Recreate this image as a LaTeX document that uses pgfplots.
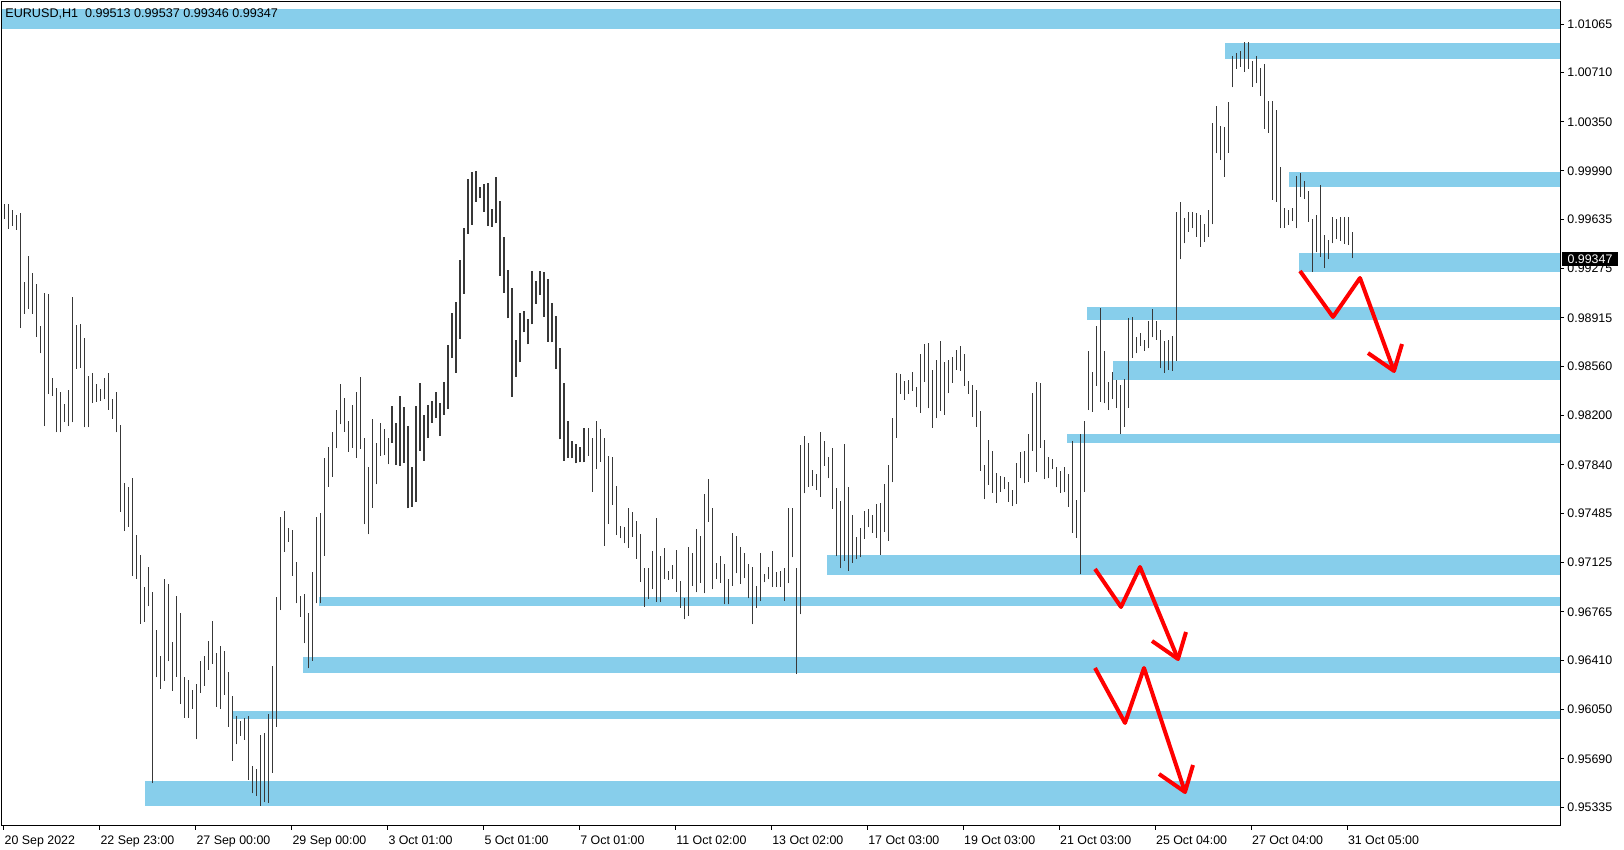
\documentclass[border=0pt]{standalone}
\usepackage{fontspec}
\setmainfont{Liberation Sans}
\usepackage{pgfplots}
\pgfplotsset{compat=1.18}
\usepackage{pgfplotstable}
\definecolor{skyb}{RGB}{135,206,235}

\pgfplotstableread{
x H L
4.3 0.99751 0.99637
8.3 0.99746 0.99566
12.3 0.99703 0.99589
16.3 0.99666 0.99561
20.3 0.99680 0.98841
24.3 0.99177 0.98946
28.3 0.99367 0.98983
32.3 0.99245 0.98946
36.3 0.99160 0.98775
40.3 0.98855 0.98656
44.3 0.99097 0.98124
48.3 0.99091 0.98357
52.3 0.98477 0.98343
56.3 0.98400 0.98078
60.3 0.98371 0.98078
64.3 0.98286 0.98152
68.3 0.98386 0.98124
72.3 0.99066 0.98150
76.3 0.98861 0.98542
80.3 0.98869 0.98548
84.3 0.98770 0.98115
88.3 0.98491 0.98115
92.3 0.98514 0.98292
96.3 0.98428 0.98300
100.3 0.98394 0.98309
104.3 0.98477 0.98320
108.3 0.98514 0.98243
112.3 0.98320 0.98178
116.3 0.98371 0.98078
120.3 0.98130 0.97498
124.3 0.97709 0.97356
128.3 0.97680 0.97387
132.3 0.97745 0.97026
136.3 0.97324 0.97006
140.3 0.97182 0.96676
144.3 0.96946 0.96693
148.3 0.97091 0.96804
152.3 0.96909 0.95512
156.3 0.96633 0.96286
160.3 0.96442 0.96201
164.3 0.97006 0.96258
168.3 0.96969 0.96403
172.3 0.96542 0.96186
176.3 0.96878 0.96289
180.3 0.96758 0.96090
184.3 0.96286 0.95990
188.3 0.96263 0.95990
192.3 0.96195 0.96053
196.3 0.96237 0.95832
200.3 0.96405 0.96174
204.3 0.96442 0.96225
208.3 0.96552 0.96340
212.3 0.96698 0.96384
216.3 0.96462 0.96071
220.3 0.96515 0.96054
224.3 0.96481 0.96157
228.3 0.96322 0.95925
232.3 0.96149 0.95676
236.3 0.96003 0.95796
240.3 0.95969 0.95857
244.3 0.95986 0.95828
248.3 0.96003 0.95535
252.3 0.95637 0.95437
256.3 0.95615 0.95420
260.3 0.95864 0.95347
264.3 0.95881 0.95372
268.3 0.96018 0.95369
272.3 0.96371 0.95589
276.3 0.96871 0.95925
280.3 0.97461 0.96778
284.3 0.97503 0.97205
288.3 0.97381 0.97278
292.3 0.97364 0.97030
296.3 0.97132 0.96827
300.3 0.96881 0.96730
304.3 0.96896 0.96535
308.3 0.96759 0.96352
312.3 0.97059 0.96408
316.3 0.97461 0.96827
320.3 0.97490 0.96827
324.3 0.97893 0.97176
328.3 0.97973 0.97681
332.3 0.98083 0.97754
336.3 0.98241 0.97961
340.3 0.98432 0.98137
344.3 0.98327 0.98083
348.3 0.98161 0.97937
352.3 0.98278 0.97966
356.3 0.98371 0.97893
360.3 0.98480 0.97956
364.3 0.98039 0.97405
368.3 0.97822 0.97332
372.3 0.98173 0.97527
376.3 0.98003 0.97698
380.3 0.98149 0.97905
384.3 0.98100 0.97912
388.3 0.98039 0.97844
392 0.98271 0.98003
396 0.98149 0.97839
400 0.98344 0.97834
404 0.98266 0.97856
408 0.98127 0.97522
412 0.97827 0.97534
416 0.98271 0.97571
420 0.98441 0.97944
424 0.98205 0.97871
428 0.98278 0.98039
432 0.98310 0.98149
436 0.98370 0.98185
440 0.98295 0.98051
444 0.98449 0.98205
448 0.98717 0.98249
452 0.98954 0.98624
456 0.99029 0.98514
460 0.99339 0.98761
464 0.99570 0.99090
468 0.99931 0.99529
472 0.99980 0.99595
476 0.99990 0.99765
480 0.99875 0.99795
484 0.99895 0.99692
488 0.99904 0.99587
492 0.99712 0.99583
496 0.99948 0.99607
500 0.99770 0.99222
504 0.99504 0.99100
508 0.99265 0.98912
512 0.99136 0.98339
516 0.98754 0.98485
520 0.98953 0.98590
524 0.98966 0.98810
528 0.98905 0.98722
532 0.99258 0.98868
536 0.99188 0.99017
540 0.99258 0.99083
544 0.99253 0.98924
548 0.99199 0.98741
552 0.99022 0.98736
556 0.98929 0.98541
560 0.98697 0.98027
564 0.98441 0.97871
568 0.98163 0.97893
572 0.98017 0.97888
576 0.97993 0.97851
580 0.97973 0.97859
584.2 0.98112 0.97859
588.3 0.98112 0.97905
592.3 0.98039 0.97644
596.3 0.98161 0.97807
600.3 0.98102 0.97864
604.3 0.98034 0.97249
608.3 0.97905 0.97407
612.3 0.97895 0.97547
616.3 0.97686 0.97327
620.3 0.97395 0.97303
624.3 0.97388 0.97266
628.3 0.97527 0.97234
632.3 0.97498 0.97315
636.3 0.97432 0.97152
640.3 0.97332 0.96986
644.3 0.97088 0.96803
648.3 0.97088 0.96859
652.3 0.97210 0.96929
656.3 0.97454 0.96839
660.3 0.97176 0.96839
664.3 0.97234 0.97003
668.3 0.97066 0.96998
672.3 0.97108 0.97003
676.3 0.97218 0.96913
680.3 0.96993 0.96796
684.3 0.96864 0.96710
688.3 0.97242 0.96737
692.3 0.97198 0.96957
696.3 0.97371 0.96908
700.3 0.97322 0.96978
704.3 0.97627 0.96900
708.3 0.97737 0.97425
712.3 0.97527 0.96930
716.3 0.97120 0.97003
720.3 0.97173 0.96978
724.3 0.97113 0.96820
728.3 0.97003 0.96820
732.3 0.97339 0.96954
736.3 0.97322 0.97047
740.3 0.97242 0.96969
744.3 0.97198 0.97010
748.3 0.97113 0.96864
752.3 0.97095 0.96674
756.3 0.96954 0.96791
760.3 0.97198 0.96844
764.3 0.97039 0.96981
768.3 0.97095 0.97003
772.3 0.97213 0.96949
776.3 0.97059 0.96949
780.3 0.97066 0.96949
784.3 0.97083 0.96847
788.3 0.97522 0.96973
792.3 0.97522 0.97164
796.3 0.97083 0.96310
800.3 0.97985 0.96747
804.3 0.98051 0.97632
808.3 0.97998 0.97681
812.3 0.97803 0.97688
816.3 0.97773 0.97656
820.3 0.98078 0.97608
824.3 0.98017 0.97834
828.3 0.97895 0.97742
832.3 0.97966 0.97517
836.3 0.97668 0.97173
840.3 0.97576 0.97083
844.3 0.97993 0.97137
848.3 0.97681 0.97066
852.3 0.97473 0.97125
856.3 0.97310 0.97154
860.3 0.97376 0.97164
864.3 0.97503 0.97298
868.3 0.97517 0.97383
872.3 0.97473 0.97344
876.3 0.97554 0.97308
880.3 0.97559 0.97181
884.3 0.97700 0.97352
888.3 0.97839 0.97283
892.3 0.98185 0.97712
896.3 0.98510 0.98039
900.3 0.98502 0.98359
904.3 0.98454 0.98315
908.3 0.98461 0.98359
912.3 0.98517 0.98383
916.3 0.98412 0.98261
920.3 0.98651 0.98222
924.3 0.98724 0.98449
928.3 0.98729 0.98254
932.3 0.98534 0.98112
936.3 0.98607 0.98181
940.3 0.98749 0.98237
944.3 0.98595 0.98205
948.3 0.98607 0.98363
952.3 0.98632 0.98441
956.3 0.98680 0.98534
960.3 0.98712 0.98527
964.3 0.98649 0.98420
968.3 0.98454 0.98359
972.3 0.98424 0.98193
976.3 0.98388 0.98120
980.3 0.98234 0.97798
984.3 0.97839 0.97588
988.3 0.98022 0.97693
992.3 0.97941 0.97637
996.3 0.97778 0.97564
1000.3 0.97759 0.97644
1004.3 0.97754 0.97661
1008.3 0.97712 0.97571
1012.3 0.97656 0.97539
1016.3 0.97856 0.97554
1020.3 0.97937 0.97742
1024.3 0.97944 0.97705
1028.3 0.98066 0.97717
1032.3 0.98368 0.97944
1036.3 0.98444 0.97790
1040.3 0.98441 0.97966
1044.3 0.98022 0.97734
1048.3 0.97900 0.97742
1052.3 0.97881 0.97807
1056.3 0.97827 0.97676
1060.3 0.97795 0.97637
1064.3 0.97827 0.97639
1068.3 0.97773 0.97534
1072.3 0.98017 0.97344
1076.3 0.97583 0.97308
1080.3 0.98063 0.97039
1084.3 0.98161 0.97644
1088.3 0.98673 0.98241
1092.3 0.98522 0.98229
1096.3 0.98856 0.98417
1100.3 0.98990 0.98302
1104.3 0.98675 0.98290
1108.3 0.98449 0.98241
1112.3 0.98522 0.98319
1116.3 0.98461 0.98258
1120.3 0.98424 0.98063
1124.3 0.98466 0.98119
1128.3 0.98912 0.98258
1132.3 0.98924 0.98624
1136.3 0.98778 0.98656
1140.3 0.98802 0.98709
1144.3 0.98754 0.98675
1148.3 0.98892 0.98693
1152.3 0.98980 0.98773
1156.3 0.98892 0.98754
1160.3 0.98827 0.98546
1164.3 0.98749 0.98514
1168.3 0.98754 0.98534
1172.3 0.98780 0.98530
1176.3 0.99692 0.98600
1180.3 0.99761 0.99344
1184.3 0.99643 0.99460
1188.3 0.99692 0.99546
1192.3 0.99687 0.99570
1196.3 0.99685 0.99509
1200.3 0.99668 0.99436
1204.3 0.99599 0.99473
1208.3 0.99704 0.99509
1212.3 1.00343 0.99599
1216.3 1.00465 1.00119
1220.3 1.00321 1.00070
1224.3 1.00314 0.99948
1228.3 1.00497 1.00124
1232.3 1.00831 1.00602
1236.3 1.00850 1.00736
1240.3 1.00870 1.00753
1244.3 1.00931 1.00716
1248.3 1.00931 1.00736
1252.3 1.00794 1.00607
1256.3 1.00831 1.00631
1260.3 1.00741 1.00538
1264.3 1.00772 1.00297
1268.3 1.00504 1.00270
1272.3 1.00504 0.99778
1276.3 1.00436 0.99765
1280.3 1.00016 0.99570
1284.3 0.99721 0.99575
1288.3 0.99704 0.99595
1292.3 0.99717 0.99626
1296.3 0.99955 0.99570
1300.3 0.99973 0.99802
1304.3 0.99919 0.99785
1308.3 0.99846 0.99619
1312.3 0.99636 0.99253
1316.3 0.99668 0.99395
1320.3 0.99887 0.99363
1324.3 0.99522 0.99282
1328.3 0.99485 0.99344
1332.3 0.99651 0.99461
1336.3 0.99636 0.99490
1340.3 0.99651 0.99478
1344.3 0.99651 0.99456
1348.3 0.99651 0.99448
1352.3 0.99546 0.99351
}\bars

\newcommand{\band}[3]{\addplot[fill=skyb, draw=none, forget plot] coordinates {(#1,#2) (1560,#2) (1560,#3) (#1,#3)};}

\begin{document}
\begin{tikzpicture}
\path[use as bounding box] (-1pt,-12pt) rectangle (811pt,413pt);
\begin{axis}[
  at={(0pt,0pt)}, anchor=south west,
  scale only axis, width=779pt, height=412pt,
  xmin=2, xmax=1560, ymin=0.951984, ymax=1.012260,
  axis line style={black, line width=0.5pt},
  tick align=outside, xtick pos=left, ytick pos=right, yticklabel pos=right,
  major tick length=2pt, tick style={black, line width=0.5pt},
  xtick={3.7,99.6,195.6,291.6,387.5,483.5,579.4,675.4,771.3,867.3,963.2,1059.2,1155.1,1251.1,1347},
  xticklabels={20 Sep 2022,22 Sep 23:00,27 Sep 00:00,29 Sep 00:00,3 Oct 01:00,5 Oct 01:00,7 Oct 01:00,11 Oct 02:00,13 Oct 02:00,17 Oct 03:00,19 Oct 03:00,21 Oct 03:00,25 Oct 04:00,27 Oct 04:00,31 Oct 05:00},
  ytick={0.95335,0.95690,0.96050,0.96410,0.96765,0.97125,0.97485,0.97840,0.98200,0.98560,0.98915,0.99275,0.99635,0.99990,1.00350,1.00710,1.01065},
  yticklabels={0.95335,0.95690,0.96050,0.96410,0.96765,0.97125,0.97485,0.97840,0.98200,0.98560,0.98915,0.99275,0.99635,0.99990,1.00350,1.00710,1.01065},
  ticklabel style={font=\fontsize{6.2}{7}\selectfont, inner sep=0pt, text=black},
  xticklabel style={anchor=north west, xshift=0.3pt, yshift=-2.5pt},
  yticklabel style={anchor=west, xshift=1.5pt},
  scaled y ticks=false,
]
\band{2}{1.011726}{1.010263}
\band{1225}{1.009282}{1.008112}
\band{1289}{0.999802}{0.998749}
\band{1299}{0.993877}{0.992531}
\band{1087}{0.989927}{0.988998}
\band{1113}{0.985999}{0.984609}
\band{1067}{0.980659}{0.980022}
\band{827}{0.971808}{0.970345}
\band{319}{0.968714}{0.968099}
\band{302.7}{0.964325}{0.963198}
\band{232.7}{0.960396}{0.959789}
\band{145}{0.955276}{0.953469}

\addplot[draw=none, mark=none, forget plot,
  error bars/.cd, y dir=plus, y explicit, error mark=none,
  error bar style={draw=black!78, line width=0.75pt, solid}]
  table[x=x, y=L, y error expr=\thisrow{H}-\thisrow{L}] {\bars};

\addplot[red, line width=2pt, line join=round, forget plot] coordinates {(1300,0.99258) (1333,0.98922) (1360,0.99207) (1394,0.98527)};
\addplot[red, line width=2pt, line join=round, forget plot] coordinates {(1368,0.98658) (1394,0.98527) (1402,0.98724)};
\addplot[red, line width=2pt, line join=round, forget plot] coordinates {(1095,0.970784) (1121,0.968004) (1140,0.970930) (1178,0.964200)};
\addplot[red, line width=2pt, line join=round, forget plot] coordinates {(1152,0.965517) (1178,0.964200) (1186,0.966175)};
\addplot[red, line width=2pt, line join=round, forget plot] coordinates {(1095,0.963542) (1125,0.959519) (1144,0.963542) (1185,0.954471)};
\addplot[red, line width=2pt, line join=round, forget plot] coordinates {(1159,0.955788) (1185,0.954471) (1193,0.956446)};

\coordinate (pbox) at (axis cs:1560,0.99347);
\coordinate (hdr) at (rel axis cs:0,1);
\end{axis}
\node[anchor=west, inner sep=0pt, font=\fontsize{6.3}{7}\selectfont] at ([xshift=1.5pt,yshift=-6pt]hdr) {EURUSD,H1\ \ 0.99513 0.99537 0.99346 0.99347};
\node[anchor=west, xshift=1pt, fill=black, text=white, inner xsep=2.6pt, inner ysep=1.4pt, font=\fontsize{6.2}{7}\selectfont] at (pbox) {0.99347};
\end{tikzpicture}
\end{document}
